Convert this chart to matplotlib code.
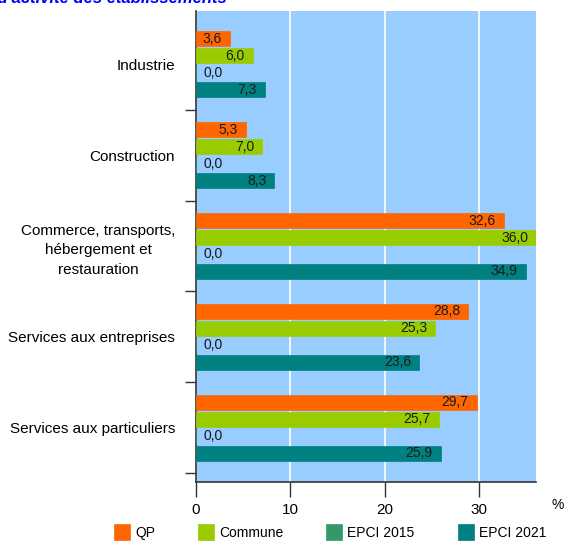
import matplotlib
matplotlib.use("Agg")
import matplotlib.pyplot as plt
import numpy as np

categories = ["Industrie", "Construction",
              "Commerce, transports,\nhébergement et\nrestauration",
              "Services aux entreprises", "Services aux particuliers"]
series_names = ["QP", "Commune", "EPCI 2015", "EPCI 2021"]
qp = [3.6, 5.3, 32.6, 28.8, 29.7]
commune = [6.0, 7.0, 36.0, 25.3, 25.7]
epci2015 = [0.0, 0.0, 0.0, 0.0, 0.0]
epci2021 = [7.3, 8.3, 34.9, 23.6, 25.9]
series_values = [qp, commune, epci2015, epci2021]
colors = ["#FF6600", "#99CC00", "#339966", "#008080"]
xticks = [0, 10, 20, 30]

plt.rcParams['font.family'] = ['Liberation Sans', 'DejaVu Sans']

W, H = 566, 541
fig = plt.figure(figsize=(W / 100, H / 100), dpi=100)
ax = fig.add_axes([196 / W, 1 - 482 / H, (536 - 196) / W, (482 - 11) / H])
ax.set_facecolor("#99CCFF")

step = 17 / 91
bh = 15 / 91
y = np.arange(len(categories))
handles = []
for i, (vals, c, name) in enumerate(zip(series_values, colors, series_names)):
    pos = y + (i - 1.5) * step
    b = ax.barh(pos, vals, height=bh, color=c, edgecolor=c, linewidth=0.5,
                label=name, zorder=3)
    handles.append(b)
    for p, v in zip(pos, vals):
        lab = f"{v:.1f}".replace(".", ",")
        if v > 0:
            ax.annotate(lab, (v, p), xytext=(-8, 0), textcoords="offset pixels",
                        ha="right", va="center", fontsize=10, color="#1a1a1a",
                        zorder=4)
        else:
            ax.annotate(lab, (0, p), xytext=(7, 0), textcoords="offset pixels",
                        ha="left", va="center", fontsize=10, color="#1a1a1a",
                        zorder=4)

ax.set_xlim(0, 36)
ax.set_ylim(4.5 + 9 / 91, -0.5 - 8 / 91)
ax.set_xticks(xticks)
ax.set_xticklabels([str(t) for t in xticks], fontsize=11)
ax.grid(axis="x", color="white", linewidth=1.2, zorder=1)
ax.set_axisbelow(True)

ax.set_yticks(np.arange(0.5, len(categories), 1))
ax.set_yticklabels([])
ax.set_yticks(y, minor=True)
ax.set_yticklabels(categories, minor=True, fontsize=11, ha="right",
                   multialignment="center", linespacing=1.5)
ax.tick_params(axis="y", which="minor", length=0, pad=15)
ax.tick_params(axis="y", which="major", length=8, width=1, color="#333333")
ax.tick_params(axis="x", length=11, width=1, color="#333333", pad=4)

for s in ["top", "right"]:
    ax.spines[s].set_visible(False)
for s in ["left", "bottom"]:
    ax.spines[s].set_color("#333333")
    ax.spines[s].set_linewidth(1.2)

fig.text(558 / W, 1 - 505 / H, "%", fontsize=10, ha="center", va="center")
fig.text(227 / W, 1 - 2.5 / H, "Répartition par secteur d'activité des établissements",
         color="#0000FF", fontsize=12, fontweight="bold", fontstyle="italic",
         ha="right", va="baseline")

fig.legend(handles=handles, labels=series_names, loc="center left",
           bbox_to_anchor=(114 / W, 1 - 532 / H), ncol=4, frameon=False,
           fontsize=10, handlelength=1.15, handleheight=1.37,
           handletextpad=0.36, columnspacing=3.1, borderpad=0,
           borderaxespad=0)

fig.savefig("out.png", dpi=100)
